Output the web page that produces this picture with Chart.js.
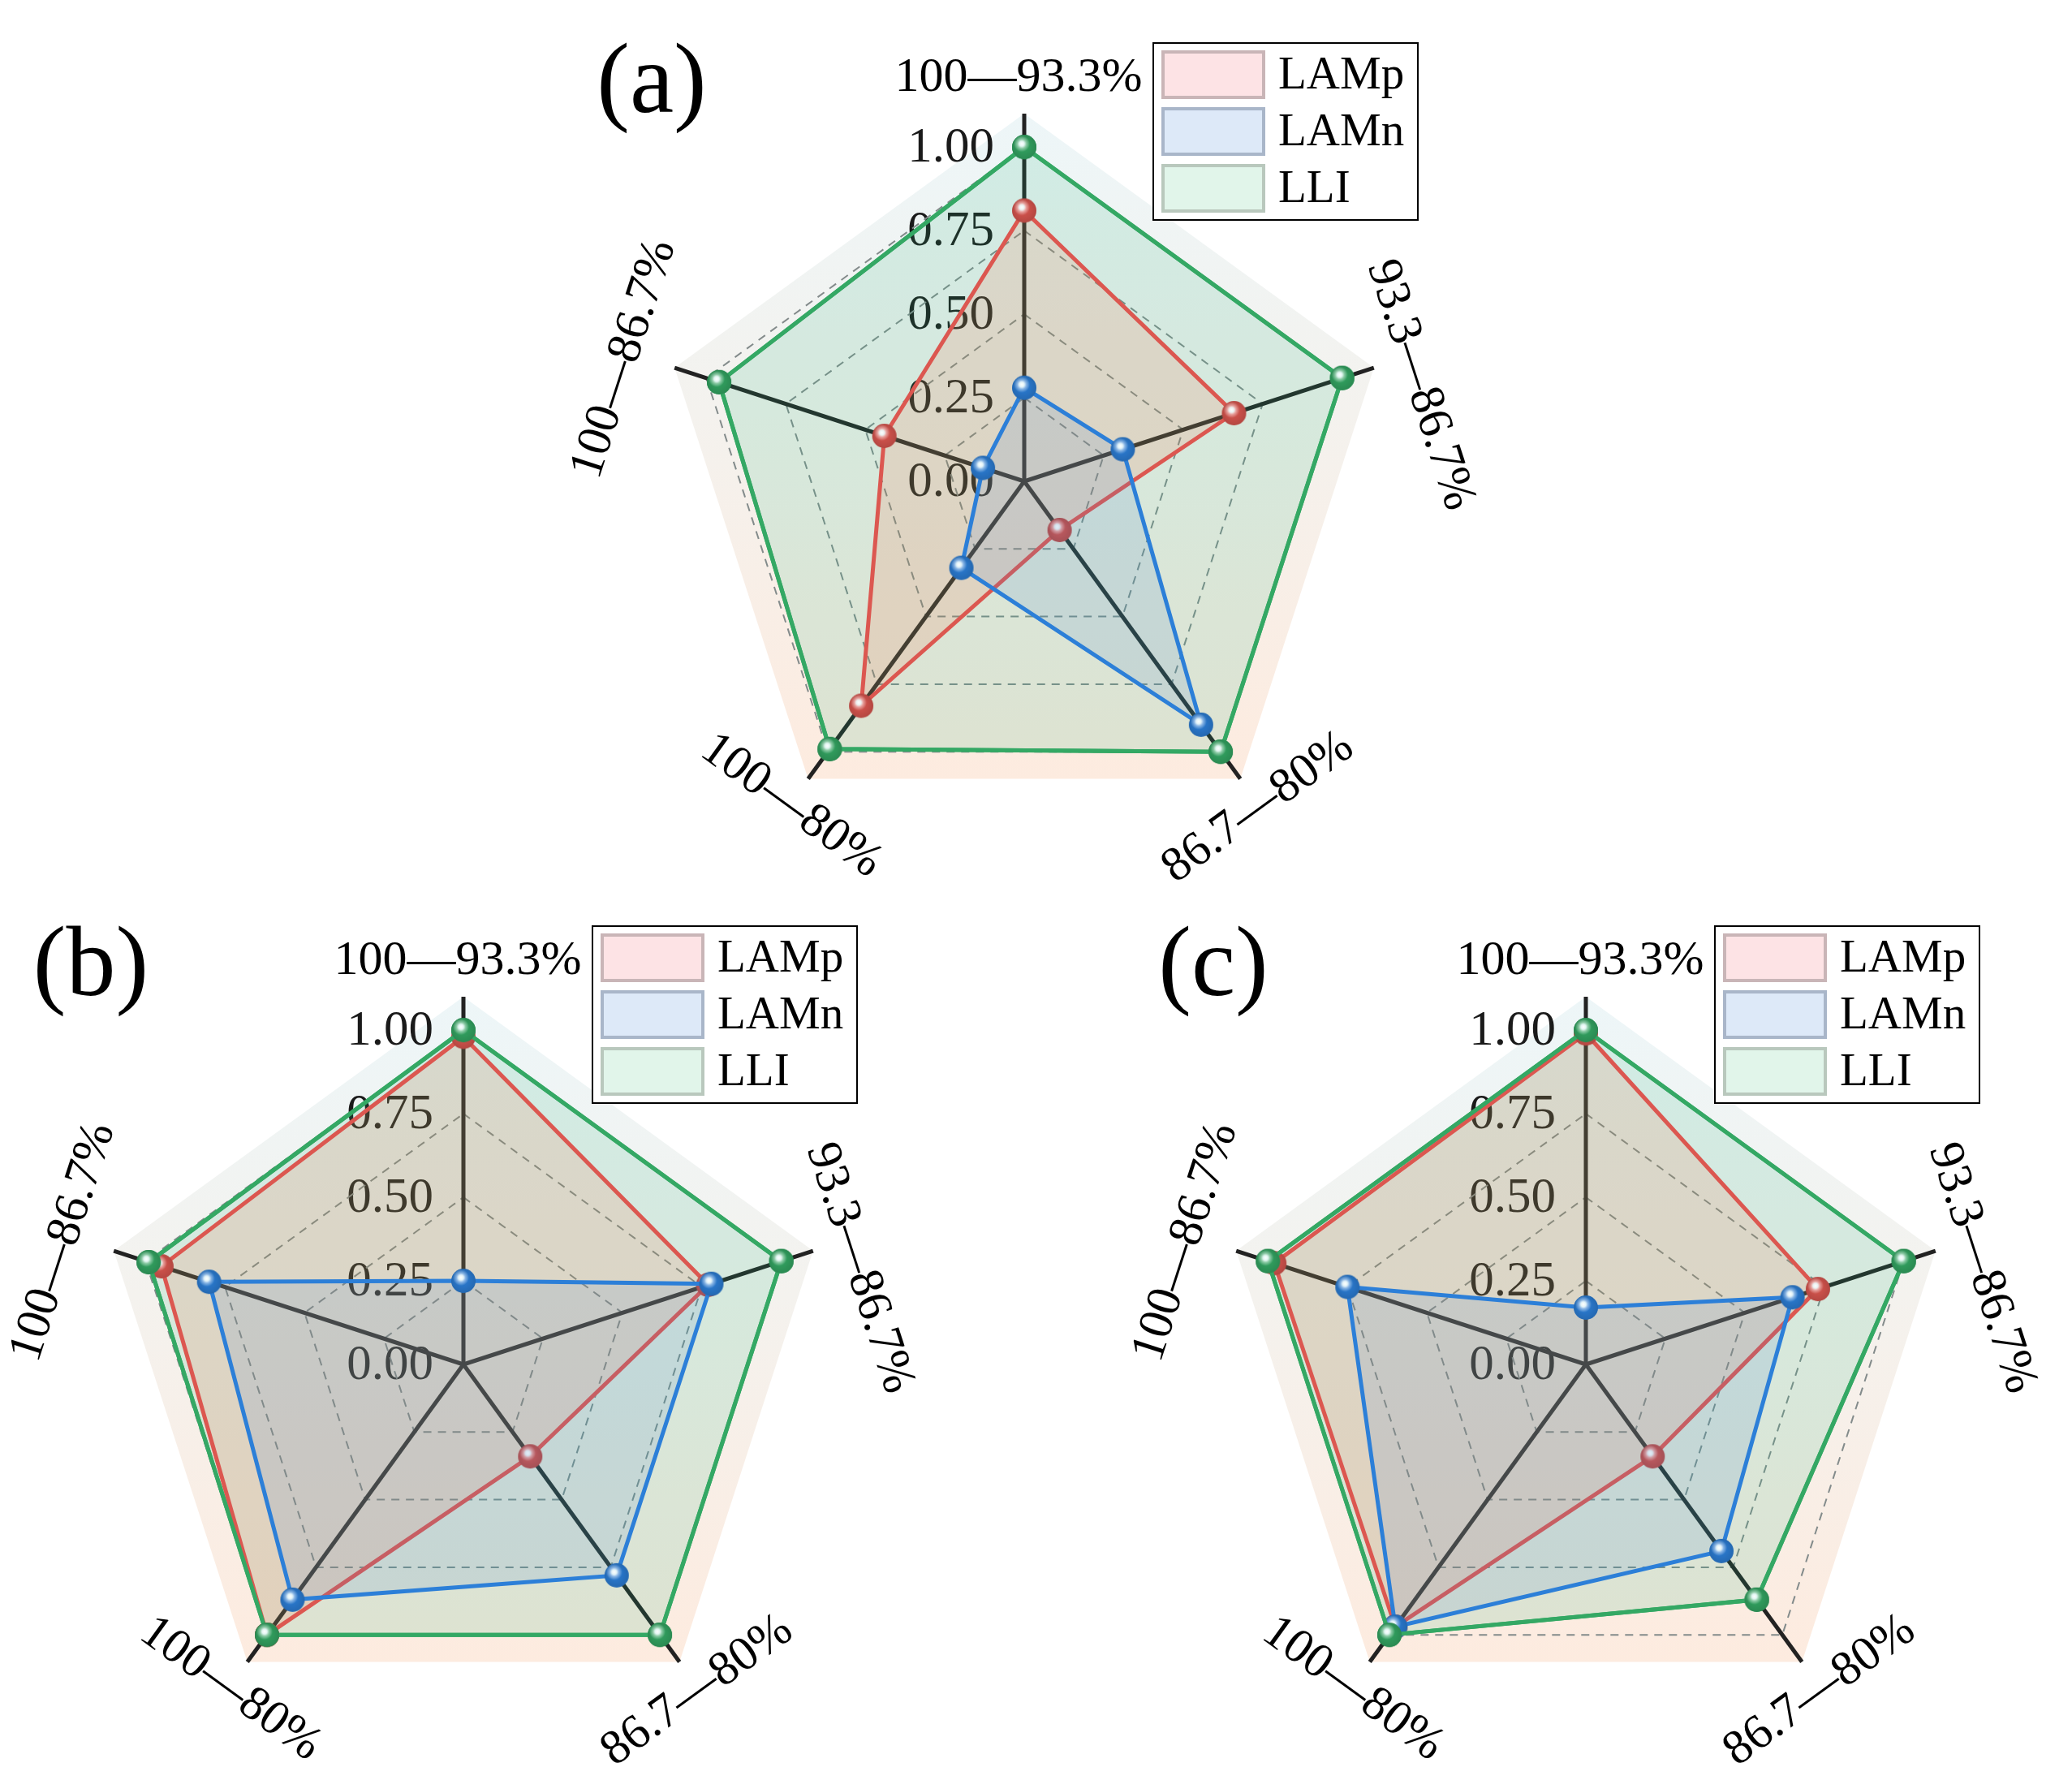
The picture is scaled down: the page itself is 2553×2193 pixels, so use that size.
<!DOCTYPE html>
<html>
<head>
<meta charset="utf-8">
<script src="https://cdn.jsdelivr.net/npm/chart.js@4.4.1/dist/chart.umd.min.js"></script>
<style>
  html, body { margin: 0; padding: 0; background: #fff; }
  #page { position: relative; width: 2553px; height: 2193px; overflow: hidden; background: #fff; }
  canvas { position: absolute; }
</style>
</head>
<body>
<div id="page">
  <canvas id="chart_a" width="1240" height="1186" style="left:642px;top:0px"></canvas>
  <canvas id="chart_b" width="1240" height="1186" style="left:-49px;top:1088px"></canvas>
  <canvas id="chart_c" width="1240" height="1186" style="left:1334px;top:1088px"></canvas>
</div>
<script>
(function() {
  const AXES = ['100—93.3%', '93.3—86.7%', '86.7—80%', '100—80%', '100—86.7%'];
  const SERIES = ['LAMp', 'LAMn', 'LLI'];
  const TICK_VALUES = [0, 0.25, 0.5, 0.75, 1.0];

  const A_LAMP = [0.81, 0.66, 0.18, 0.83, 0.44];
  const A_LAMN = [0.28, 0.31, 0.90, 0.32, 0.13];
  const A_LLI  = [1.00, 1.00, 1.00, 0.99, 0.96];

  const B_LAMP = [0.98, 0.77, 0.34, 1.00, 0.95];
  const B_LAMN = [0.25, 0.78, 0.78, 0.87, 0.80];
  const B_LLI  = [1.00, 1.00, 1.00, 1.00, 0.99];

  const C_LAMP = [0.99, 0.73, 0.34, 0.97, 0.98];
  const C_LAMN = [0.17, 0.65, 0.69, 0.97, 0.75];
  const C_LLI  = [1.00, 1.00, 0.87, 1.00, 1.00];

  const SERIF = '"Liberation Serif", "Times New Roman", serif';

  const STYLE = {
    LAMp: { line: '#dc5750', fill: 'rgba(255,110,70,0.15)', swatch: '#fde3e5', edge: '#c9b5b7' },
    LAMn: { line: '#2c7fd8', fill: 'rgba(80,135,205,0.15)', swatch: '#dde9f8', edge: '#a9b6c9' },
    LLI:  { line: '#34a864', fill: 'rgba(49,184,127,0.15)', swatch: '#e1f5ea', edge: '#b9c8bd' }
  };
  // LLI fill goes under everything, its line/points get restroked on top later
  const DRAW_ORDER = { LLI: 3, LAMp: 2, LAMn: 1 };

  // shiny ball markers
  function makeBall(color) {
    const c = document.createElement('canvas');
    c.width = c.height = 36;
    const g = c.getContext('2d');
    const m = 18, r = 15;
    g.beginPath(); g.arc(m, m, r, 0, Math.PI * 2);
    g.fillStyle = color; g.fill();
    const shade = g.createRadialGradient(m - 3, m - 4, 2, m, m, r);
    shade.addColorStop(0, 'rgba(0,0,0,0)');
    shade.addColorStop(1, 'rgba(0,0,0,0.18)');
    g.fillStyle = shade; g.fill();
    const hl = g.createRadialGradient(m - 3, m - 4, 0, m - 3, m - 4, 10);
    hl.addColorStop(0, 'rgba(255,255,255,1)');
    hl.addColorStop(0.3, 'rgba(235,250,250,0.95)');
    hl.addColorStop(0.55, 'rgba(255,255,255,0.45)');
    hl.addColorStop(1, 'rgba(255,255,255,0)');
    g.beginPath(); g.arc(m, m, r, 0, Math.PI * 2);
    g.fillStyle = hl; g.fill();
    return c;
  }
  const BALLS = {};
  SERIES.forEach(n => { BALLS[n] = makeBall(STYLE[n].line); });

  const LABEL_R = 497;
  const LABEL_NUDGE = [[-7, 0], [15, 35], [-4, 0], [5, -2], [-20, 3]];

  const panelPlugin = {
    id: 'panel',
    beforeDraw(chart) {
      const s = chart.scales.r, ctx = chart.ctx;
      const n = chart.data.labels.length;
      // pentagon backdrop
      ctx.save();
      ctx.beginPath();
      for (let i = 0; i < n; i++) {
        const p = s.getPointPositionForValue(i, s.max);
        if (i === 0) ctx.moveTo(p.x, p.y); else ctx.lineTo(p.x, p.y);
      }
      ctx.closePath();
      const top = s.yCenter - s.drawingArea;
      const bottom = s.yCenter + s.drawingArea * Math.cos(Math.PI / 5);
      const grad = ctx.createLinearGradient(0, top, 0, bottom);
      grad.addColorStop(0, '#edf6f8');
      grad.addColorStop(0.45, '#f4f2ee');
      grad.addColorStop(1, '#fdebdf');
      ctx.fillStyle = grad;
      ctx.fill();
      // tick labels (under the fills)
      ctx.font = '61px ' + SERIF;
      ctx.textAlign = 'right';
      ctx.textBaseline = 'middle';
      ctx.fillStyle = '#1a1a1a';
      s.ticks.forEach(t => {
        const p = s.getPointPositionForValue(0, t.value);
        ctx.fillText(t.value.toFixed(2), p.x - 37, p.y + 2);
      });
      ctx.restore();
    },
    afterDatasetsDraw(chart) {
      const idx = chart.data.datasets.findIndex(d => d.label === 'LLI');
      const meta = chart.getDatasetMeta(idx);
      const ctx = chart.ctx;
      ctx.save();
      meta.dataset.draw(ctx, chart.chartArea);
      meta.data.forEach(pt => pt.draw(ctx, chart.chartArea));
      ctx.restore();
    },
    afterDraw(chart, args, opts) {
      const s = chart.scales.r, ctx = chart.ctx;
      ctx.save();
      // axis names
      ctx.font = '60px ' + SERIF;
      ctx.textAlign = 'center';
      ctx.textBaseline = 'middle';
      chart.data.labels.forEach((text, i) => {
        const p = s.getPointPosition(i, LABEL_R);
        let rot = p.angle + Math.PI / 2;
        while (rot > Math.PI / 2) rot -= Math.PI;
        while (rot < -Math.PI / 2) rot += Math.PI;
        ctx.save();
        ctx.translate(p.x + LABEL_NUDGE[i][0], p.y + LABEL_NUDGE[i][1]);
        ctx.rotate(rot);
        const w = ctx.measureText(text).width;
        ctx.fillStyle = '#fff';
        ctx.fillRect(-w / 2 - 12, -36, w + 24, 72);
        ctx.fillStyle = '#000';
        ctx.fillText(text, 0, 0);
        ctx.restore();
      });
      // panel tag
      ctx.font = '122px ' + SERIF;
      ctx.fillStyle = '#000';
      ctx.fillText(opts.tag, s.xCenter - 459, s.yCenter - 487);
      // legend
      const lx = s.xCenter + 159, ly = s.yCenter - 540;
      ctx.fillStyle = '#fff';
      ctx.fillRect(lx, ly, 326, 218);
      ctx.strokeStyle = '#000';
      ctx.lineWidth = 2;
      ctx.strokeRect(lx, ly, 326, 218);
      ctx.font = '57px ' + SERIF;
      ctx.textAlign = 'left';
      chart.data.datasets.forEach((ds, i) => {
        const st = STYLE[ds.label];
        const y = ly + 11 + i * 70;
        ctx.fillStyle = st.swatch;
        ctx.fillRect(lx + 12, y, 124, 56);
        ctx.strokeStyle = st.edge;
        ctx.lineWidth = 4;
        ctx.strokeRect(lx + 12, y, 124, 56);
        ctx.fillStyle = '#000';
        ctx.fillText(ds.label, lx + 154, y + 30);
      });
      ctx.restore();
    }
  };

  function makeRadar(canvasId, tag, lamp, lamn, lli) {
    const values = { LAMp: lamp, LAMn: lamn, LLI: lli };
    return new Chart(document.getElementById(canvasId), {
      type: 'radar',
      data: {
        labels: AXES,
        datasets: SERIES.map(name => ({
          label: name,
          data: values[name],
          order: DRAW_ORDER[name],
          borderColor: STYLE[name].line,
          backgroundColor: STYLE[name].fill,
          borderWidth: 5,
          fill: true,
          pointStyle: BALLS[name],
          pointRadius: 15
        }))
      },
      options: {
        responsive: false,
        animation: false,
        events: [],
        layout: { padding: { left: 167, right: 167, top: 140, bottom: 140 } },
        elements: { line: { tension: 0, borderJoinStyle: 'miter' } },
        scales: {
          r: {
            min: 0,
            max: 1.1,
            afterBuildTicks: s => { s.ticks = TICK_VALUES.map(v => ({ value: v })); },
            ticks: { display: false, stepSize: 0.25 },
            pointLabels: { display: false },
            grid: { color: '#838b8b', lineWidth: 2 },
            border: { dash: [10, 8] },
            angleLines: { color: '#222', lineWidth: 5 }
          }
        },
        plugins: {
          legend: { display: false },
          tooltip: { enabled: false },
          filler: { drawTime: 'beforeDatasetDraw' },
          panel: { tag: tag }
        }
      },
      plugins: [panelPlugin]
    });
  }

  makeRadar('chart_a', '(a)', A_LAMP, A_LAMN, A_LLI);
  makeRadar('chart_b', '(b)', B_LAMP, B_LAMN, B_LLI);
  makeRadar('chart_c', '(c)', C_LAMP, C_LAMN, C_LLI);
})();
</script>
</body>
</html>
